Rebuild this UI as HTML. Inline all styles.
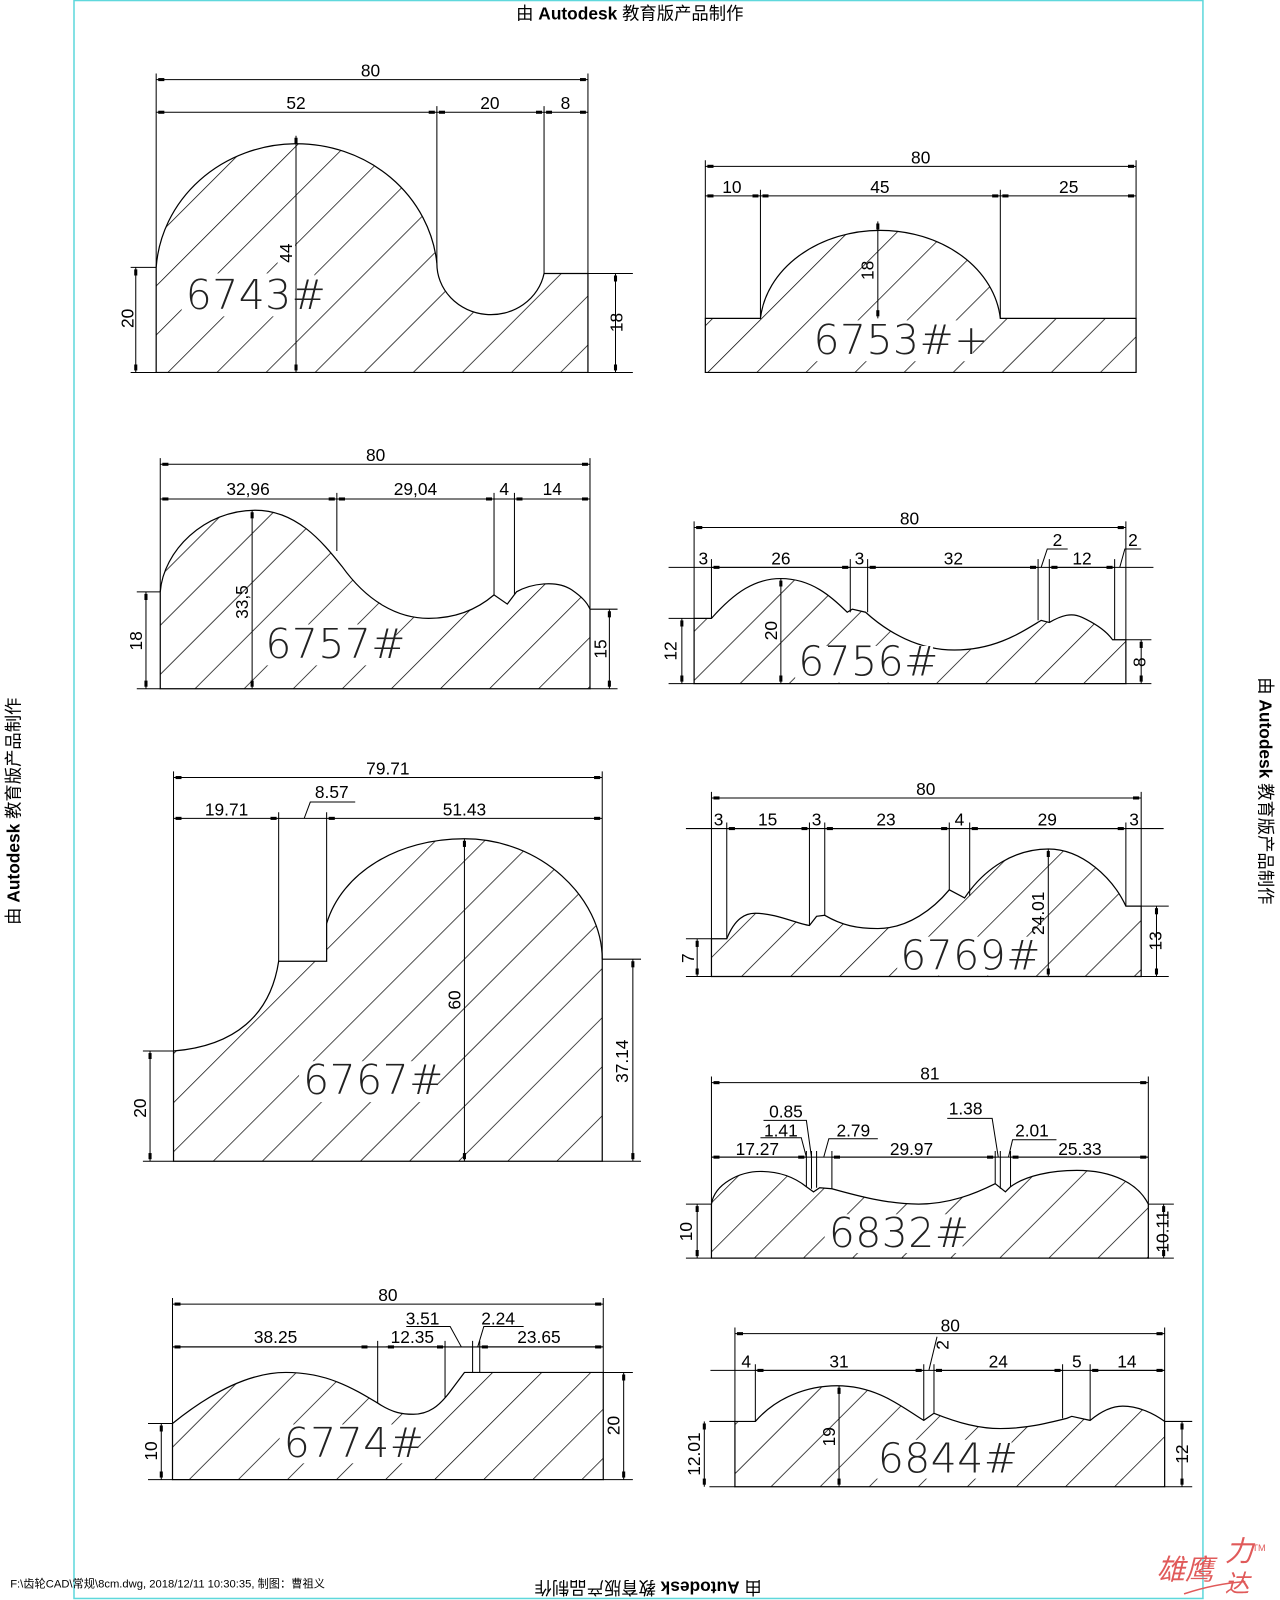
<!DOCTYPE html>
<html><head><meta charset="utf-8"><style>
html,body{margin:0;padding:0;background:#fff;}
svg{display:block}
text{font-family:"Liberation Sans","Noto Sans CJK SC",sans-serif;fill:#000;}
.t{font-size:17px;text-anchor:middle}
.L{font-family:"DejaVu Sans ExtraLight","DejaVu Sans","Liberation Sans",sans-serif;font-weight:200;font-size:40px;letter-spacing:0.5px;fill:#222}
.d{stroke:#000;stroke-width:1;fill:none}
.m{marker-start:url(#a);marker-end:url(#a)}
.p{fill:url(#h);stroke:#000;stroke-width:1.2}
.w{fill:#fff}
</style></head><body>
<svg width="1280" height="1600" viewBox="0 0 1254 1568" preserveAspectRatio="none" xmlns="http://www.w3.org/2000/svg">
<defs>
<pattern id="h" width="34" height="34" patternUnits="userSpaceOnUse" patternTransform="rotate(45)"><rect width="34" height="34" fill="#fff"/><line x1="0" y1="0" x2="0" y2="34" stroke="#000" stroke-width="1.4"/></pattern>
<marker id="a" markerWidth="10" markerHeight="4" refX="8" refY="2" orient="auto-start-reverse" markerUnits="userSpaceOnUse"><rect x="0" y="0.5" width="6" height="3" fill="#000"/></marker>
</defs>
<rect x="0" y="0" width="1254" height="1568" fill="#fff"/>
<rect x="72.5" y="0.5" width="1106" height="1566" fill="none" stroke="#5fd8dc" stroke-width="1.5"/>

<text x="617" y="19" style="font-size:17px;text-anchor:middle">由 <tspan font-weight="bold">Autodesk</tspan> 教育版产品制作</text>
<text transform="translate(19,795) rotate(-90)" style="font-size:17px;text-anchor:middle">由 <tspan font-weight="bold">Autodesk</tspan> 教育版产品制作</text>
<text transform="translate(1234,775) rotate(90)" style="font-size:17px;text-anchor:middle">由 <tspan font-weight="bold">Autodesk</tspan> 教育版产品制作</text>
<text transform="translate(635,1550) rotate(180)" style="font-size:17px;text-anchor:middle">由 <tspan font-weight="bold">Autodesk</tspan> 教育版产品制作</text>
<text x="10" y="1556" style="font-size:11px">F:\齿轮CAD\常规\8cm.dwg, 2018/12/11 10:30:35, 制图：曹祖义</text>
<g style="font-family:'Noto Serif CJK SC',serif;font-size:28px;font-style:italic">
<text x="1133" y="1548" style="fill:#e05a5a">雄鹰</text><text x="1200" y="1530" style="fill:#e05a5a">力</text><text x="1200" y="1560" style="fill:#e05a5a;font-size:24px">达</text>
<text x="1227" y="1520" style="fill:#e05a5a;font-size:9px;font-style:normal">TM</text></g>
<path d="M1160,1562 Q1190,1552 1220,1550" stroke="#e05a5a" stroke-width="1.5" fill="none"/>

<!-- 6743 -->
<path class="p" d="M153,365 V262 A138,130 0 0 1 428,258 A53,50 0 0 0 533,268 H576 V365 Z"/>
<g class="d">
<path d="M153,72 V262 M576,72 V268 M428,104 V258 M533,104 V268"/>
<line class="m" x1="153" y1="78" x2="576" y2="78"/>
<line class="m" x1="153" y1="110" x2="428" y2="110"/><line class="m" x1="428" y1="110" x2="533" y2="110"/><line class="m" x1="533" y1="110" x2="576" y2="110"/>
</g>
<rect class="w" x="178" y="268" width="130" height="42"/>
<g class="d">
<line class="m" x1="290" y1="133" x2="290" y2="365"/>
<path d="M128,262 H153 M128,365 H153 M576,268 H620 M576,365 H620"/>
<line class="m" x1="133" y1="262" x2="133" y2="365"/><line class="m" x1="603" y1="268" x2="603" y2="365"/>
</g>
<text class="t" x="363" y="75">80</text><text class="t" x="290" y="107">52</text><text class="t" x="480" y="107">20</text><text class="t" x="554" y="107">8</text>
<rect class="w" x="272" y="232" width="17" height="30"/>
<text class="t" transform="translate(286,248) rotate(-90)">44</text><text class="t" transform="translate(131,312) rotate(-90)">20</text><text class="t" transform="translate(610,316) rotate(-90)">18</text>
<text class="L" x="182" y="303">6743#</text>

<!-- 6753 -->
<path class="p" d="M691,365 V312 H745 A118,95 0 0 1 980,312 H1113 V365 Z"/>
<rect class="w" x="793" y="314" width="160" height="40"/>
<g class="d">
<path d="M691,157 V312 M1113,157 V312 M745,186 V312 M980,186 V312"/>
<line class="m" x1="691" y1="163" x2="1113" y2="163"/>
<line class="m" x1="691" y1="192" x2="745" y2="192"/><line class="m" x1="745" y1="192" x2="980" y2="192"/><line class="m" x1="980" y1="192" x2="1113" y2="192"/>
<line class="m" x1="860" y1="217" x2="860" y2="312"/>
</g>
<text class="t" x="902" y="160">80</text><text class="t" x="717" y="189">10</text><text class="t" x="862" y="189">45</text><text class="t" x="1047" y="189">25</text>
<text class="t" transform="translate(856,265) rotate(-90)">18</text>
<text class="L" x="797" y="347">6753#+</text>

<!-- 6757 -->
<path class="p" d="M157,675 V580 C160,540 200,500 250,500 C290,500 315,530 335,555 C360,590 390,606 420,606 C450,606 470,595 484,583 L497,592 L506,580 C520,572 545,568 560,578 C570,585 575,590 578,597 V675 Z"/>
<rect class="w" x="256" y="612" width="132" height="40"/>
<g class="d">
<path d="M157,449 V580 M578,449 V597 M330,483 V540 M484,483 V583 M504,483 V582"/>
<line class="m" x1="157" y1="455" x2="578" y2="455"/>
<line class="m" x1="157" y1="489" x2="330" y2="489"/><line class="m" x1="330" y1="489" x2="484" y2="489"/><line x1="484" y1="489" x2="504" y2="489"/><line class="m" x1="504" y1="489" x2="578" y2="489"/>
<line class="m" x1="247" y1="500" x2="247" y2="675"/>
<path d="M134,580 H157 M134,675 H157 M578,597 H605 M578,675 H605"/>
<line class="m" x1="143" y1="580" x2="143" y2="675"/><line class="m" x1="597" y1="597" x2="597" y2="675"/>
</g>
<text class="t" x="243" y="485">32,96</text><text class="t" x="368" y="452">80</text><text class="t" x="407" y="485">29,04</text><text class="t" x="494" y="485">4</text><text class="t" x="541" y="485">14</text>
<text class="t" transform="translate(243,590) rotate(-90)">33,5</text><text class="t" transform="translate(139,628) rotate(-90)">18</text><text class="t" transform="translate(594,636) rotate(-90)">15</text>
<text class="L" x="260" y="645">6757#</text>

<!-- 6756 -->
<path class="p" d="M680,670 V606 H697 C720,580 740,567 765,567 C795,567 815,585 830,600 L835,597 L848,600 C870,620 900,637 935,637 C975,637 1000,620 1020,608 L1028,610 C1040,603 1050,600 1060,605 C1075,612 1085,620 1090,627 H1103 V670 Z"/>
<rect class="w" x="779" y="633" width="135" height="36"/>
<g class="d">
<path d="M680,511 V606 M1103,511 V627 M697,548 V606 M833,548 V600 M850,548 V600 M1017,548 V608 M1028,548 V610 M1092,548 V627"/>
<line class="m" x1="680" y1="517" x2="1103" y2="517"/>
<line x1="655" y1="556" x2="1130" y2="556"/>
<line class="m" x1="697" y1="556" x2="833" y2="556"/><line class="m" x1="850" y1="556" x2="1017" y2="556"/><line class="m" x1="1028" y1="556" x2="1092" y2="556"/>
<path d="M1020,556 L1026,538 H1046 M1097,556 L1102,538 H1118"/>
<line class="m" x1="765" y1="567" x2="765" y2="670"/>
<path d="M655,606 H680 M655,670 H680 M1103,627 H1128 M1103,670 H1128"/>
<line class="m" x1="668" y1="606" x2="668" y2="670"/><line class="m" x1="1118" y1="627" x2="1118" y2="670"/>
</g>
<text class="t" x="891" y="514">80</text><text class="t" x="689" y="553">3</text><text class="t" x="765" y="553">26</text><text class="t" x="842" y="553">3</text><text class="t" x="934" y="553">32</text><text class="t" x="1036" y="535">2</text><text class="t" x="1060" y="553">12</text><text class="t" x="1110" y="535">2</text>
<text class="t" transform="translate(761,618) rotate(-90)">20</text><text class="t" transform="translate(663,638) rotate(-90)">12</text><text class="t" transform="translate(1122,649) rotate(-90)">8</text>
<text class="L" x="782" y="662">6756#</text>

<!-- 6767 -->
<path class="p" d="M170,1138 V1030 C230,1025 265,995 273,942 H320 V905 C335,855 390,822 455,822 C530,822 590,880 590,940 V1138 Z"/>
<rect class="w" x="293" y="1040" width="135" height="40"/>
<g class="d">
<path d="M170,756 V1030 M590,756 V940 M273,796 V942 M320,796 V905"/>
<line class="m" x1="170" y1="762" x2="590" y2="762"/>
<line class="m" x1="170" y1="802" x2="273" y2="802"/><line x1="273" y1="802" x2="320" y2="802"/><line class="m" x1="320" y1="802" x2="590" y2="802"/>
<path d="M298,802 L304,786 H348"/>
<line class="m" x1="455" y1="822" x2="455" y2="1138"/>
<path d="M140,1030 H170 M140,1138 H170 M590,940 H628 M590,1138 H628"/>
<line class="m" x1="147" y1="1030" x2="147" y2="1138"/><line class="m" x1="620" y1="940" x2="620" y2="1138"/>
</g>
<text class="t" x="380" y="759">79.71</text><text class="t" x="222" y="799">19.71</text><text class="t" x="325" y="782">8.57</text><text class="t" x="455" y="799">51.43</text>
<text class="t" transform="translate(451,980) rotate(-90)">60</text><text class="t" transform="translate(143,1086) rotate(-90)">20</text><text class="t" transform="translate(615,1040) rotate(-90)">37.14</text>
<text class="L" x="297" y="1072">6767#</text>

<!-- 6769 -->
<path class="p" d="M697,957 V920 H712 C720,900 730,895 740,895 C760,895 780,905 793,907 L800,898 L808,897 C825,907 840,910 860,910 C890,910 915,890 930,872 L945,880 C965,850 995,832 1027,832 C1060,832 1090,860 1103,888 H1118 V957 Z"/>
<rect class="w" x="879" y="918" width="135" height="38"/>
<g class="d">
<path d="M697,776 V920 M1118,776 V888 M712,806 V920 M793,806 V907 M808,806 V897 M930,806 V872 M950,806 V878 M1103,806 V888"/>
<line class="m" x1="697" y1="782" x2="1118" y2="782"/>
<line x1="672" y1="812" x2="1140" y2="812"/>
<line class="m" x1="712" y1="812" x2="793" y2="812"/><line class="m" x1="808" y1="812" x2="930" y2="812"/><line class="m" x1="950" y1="812" x2="1103" y2="812"/>
<line class="m" x1="1027" y1="832" x2="1027" y2="957"/>
<path d="M672,920 H697 M672,957 H697 M1118,888 H1145 M1118,957 H1145"/>
<line class="m" x1="683" y1="920" x2="683" y2="957"/><line class="m" x1="1133" y1="888" x2="1133" y2="957"/>
</g>
<text class="t" x="907" y="779">80</text><text class="t" x="704" y="809">3</text><text class="t" x="752" y="809">15</text><text class="t" x="800" y="809">3</text><text class="t" x="868" y="809">23</text><text class="t" x="940" y="809">4</text><text class="t" x="1026" y="809">29</text><text class="t" x="1111" y="809">3</text>
<text class="t" transform="translate(1023,895) rotate(-90)">24.01</text><text class="t" transform="translate(680,939) rotate(-90)">7</text><text class="t" transform="translate(1138,922) rotate(-90)">13</text>
<text class="L" x="882" y="950">6769#</text>

<!-- 6832 -->
<path class="p" d="M697,1233 V1180 C700,1160 725,1148 745,1148 C765,1148 780,1155 790,1163 L797,1168 L803,1164 L815,1165 C840,1172 870,1180 900,1180 C930,1180 955,1170 975,1160 L985,1168 L990,1163 C1005,1152 1030,1147 1055,1147 C1090,1147 1115,1160 1125,1180 V1233 Z"/>
<rect class="w" x="808" y="1190" width="135" height="38"/>
<g class="d">
<path d="M697,1055 V1180 M1125,1055 V1180 M790,1128 V1163 M795,1128 V1165 M800,1128 V1164 M815,1128 V1165 M975,1128 V1160 M980,1128 V1165 M990,1128 V1163"/>
<line class="m" x1="697" y1="1061" x2="1125" y2="1061"/>
<line x1="697" y1="1134" x2="1125" y2="1134"/>
<line class="m" x1="697" y1="1134" x2="790" y2="1134"/><line class="m" x1="815" y1="1134" x2="975" y2="1134"/><line class="m" x1="990" y1="1134" x2="1125" y2="1134"/>
<path d="M795,1134 L790,1098 H748 M790,1134 L785,1115 H745 M807,1134 L812,1116 H860 M978,1134 L972,1096 H928 M988,1134 L992,1117 H1035"/>
<path d="M672,1180 H697 M672,1233 H697 M1125,1180 H1150 M1125,1233 H1150"/>
<line class="m" x1="683" y1="1180" x2="683" y2="1233"/><line class="m" x1="1140" y1="1180" x2="1140" y2="1233"/>
</g>
<text class="t" x="911" y="1058">81</text><text class="t" x="742" y="1132">17.27</text><text class="t" x="770" y="1095">0.85</text><text class="t" x="765" y="1114">1.41</text><text class="t" x="836" y="1114">2.79</text><text class="t" x="893" y="1132">29.97</text><text class="t" x="946" y="1092">1.38</text><text class="t" x="1011" y="1114">2.01</text><text class="t" x="1058" y="1132">25.33</text>
<text class="t" transform="translate(678,1207) rotate(-90)">10</text><text class="t" transform="translate(1145,1207) rotate(-90)">10.11</text>
<text class="L" x="812" y="1222">6832#</text>

<!-- 6774 -->
<path class="p" d="M169,1450 V1395 C200,1370 240,1345 280,1345 C320,1345 345,1360 370,1375 C385,1385 395,1386 405,1386 C420,1386 430,1378 440,1365 L455,1345 H591 V1450 Z"/>
<rect class="w" x="274" y="1396" width="135" height="38"/>
<g class="d">
<path d="M169,1272 V1395 M591,1272 V1345 M370,1314 V1375 M436,1314 V1370 M463,1314 V1345 M470,1314 V1345"/>
<line class="m" x1="169" y1="1278" x2="591" y2="1278"/>
<line x1="169" y1="1320" x2="591" y2="1320"/>
<line class="m" x1="169" y1="1320" x2="362" y2="1320"/><line class="m" x1="378" y1="1320" x2="436" y2="1320"/><line class="m" x1="470" y1="1320" x2="591" y2="1320"/>
<path d="M452,1320 L441,1300 H398 M468,1320 L474,1300 H513"/>
<path d="M145,1395 H169 M145,1450 H169 M591,1345 H620 M591,1450 H620"/>
<line class="m" x1="158" y1="1395" x2="158" y2="1450"/><line class="m" x1="611" y1="1345" x2="611" y2="1450"/>
</g>
<text class="t" x="380" y="1275">80</text><text class="t" x="270" y="1316">38.25</text><text class="t" x="404" y="1316">12.35</text><text class="t" x="414" y="1298">3.51</text><text class="t" x="488" y="1298">2.24</text><text class="t" x="528" y="1316">23.65</text>
<text class="t" transform="translate(154,1422) rotate(-90)">10</text><text class="t" transform="translate(607,1397) rotate(-90)">20</text>
<text class="L" x="278" y="1428">6774#</text>

<!-- 6844 -->
<path class="p" d="M720,1457 V1393 H740 C760,1370 790,1358 820,1358 C860,1358 885,1380 905,1392 L915,1385 C940,1395 960,1400 980,1400 C1005,1400 1025,1395 1045,1390 L1050,1388 L1068,1392 C1080,1382 1090,1378 1100,1378 C1115,1378 1130,1385 1141,1393 V1457 Z"/>
<rect class="w" x="856" y="1411" width="135" height="38"/>
<g class="d">
<path d="M720,1301 V1393 M1141,1301 V1393 M740,1337 V1393 M905,1337 V1392 M915,1337 V1385 M1041,1337 V1390 M1068,1337 V1392"/>
<line class="m" x1="720" y1="1307" x2="1141" y2="1307"/>
<line x1="696" y1="1343" x2="1141" y2="1343"/>
<line class="m" x1="740" y1="1343" x2="905" y2="1343"/><line class="m" x1="915" y1="1343" x2="1041" y2="1343"/><line class="m" x1="1068" y1="1343" x2="1141" y2="1343"/>
<path d="M910,1343 L918,1310"/>
<line class="m" x1="822" y1="1358" x2="822" y2="1457"/>
<path d="M695,1393 H720 M695,1457 H720 M1141,1393 H1168 M1141,1457 H1168"/>
<line class="m" x1="690" y1="1393" x2="690" y2="1457"/><line class="m" x1="1158" y1="1393" x2="1158" y2="1457"/>
</g>
<text class="t" x="931" y="1305">80</text><text class="t" x="731" y="1340">4</text><text class="t" x="822" y="1340">31</text><text class="t" transform="translate(929,1318) rotate(-90)">2</text><text class="t" x="978" y="1340">24</text><text class="t" x="1055" y="1340">5</text><text class="t" x="1104" y="1340">14</text>
<text class="t" transform="translate(818,1408) rotate(-90)">19</text><text class="t" transform="translate(686,1425) rotate(-90)">12.01</text><text class="t" transform="translate(1164,1425) rotate(-90)">12</text>
<text class="L" x="860" y="1443">6844#</text>
</svg>
</body></html>
